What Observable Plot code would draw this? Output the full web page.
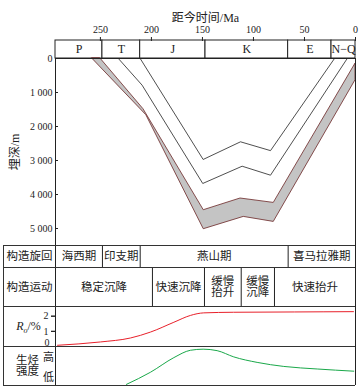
<!DOCTYPE html>
<html><head><meta charset="utf-8">
<script src="https://cdn.jsdelivr.net/npm/d3@7"></script>
<script src="https://cdn.jsdelivr.net/npm/@observablehq/plot@0.6"></script>
<style>
body{margin:0;background:#fff;}
#fig{position:relative;width:361px;height:392px;background:#fff;overflow:hidden;}
#fig svg{position:absolute;left:0;top:0;}
.hl{position:absolute;left:3px;width:352px;height:1px;background:#333;}
.vl{position:absolute;left:3px;top:245px;width:1px;height:141px;background:#333;}
</style></head><body><div id="fig"></div>
<script>
// ---- data ----
const ageTicks = [250, 200, 150, 100, 50, 0];
const depthTicks = [0, 1000, 2000, 3000, 4000, 5000];
const periodNames = ["P", "T", "J", "K", "E", "N−Q"];
const periodFrom = [294, 248, 211, 147, 66, 23.5];
const periodTo = [248, 211, 147, 66, 23.5, 0];

const line1Age = [211, 149.3, 112.7, 83.3, 20.6];
const line1Depth = [0, 2970, 2450, 2710, 0];
const line2Age = [232.4, 209.1, 149.7, 111.1, 83.3, 8.1];
const line2Depth = [0, 785, 3676, 3168, 3432, 0];
const bandTopAge = [250, 207.8, 148.7, 112.7, 80.1, 0];
const bandTopDepth = [0, 1491, 4462, 4118, 4247, 150];
const bandBotAge = [258.1, 205, 148.7, 109.5, 80.1, 0];
const bandBotDepth = [0, 1668, 5021, 4659, 4806, 640];

const cycleNames = ["海西期", "印支期", "燕山期", "喜马拉雅期"];
const cycleFrom = [294, 248, 211, 66];
const cycleTo = [248, 211, 66, 0];

const moveNames = ["稳定沉降", "快速沉降", "缓慢\n抬升", "缓慢\n沉降", "快速抬升"];
const moveFrom = [294, 199, 148, 112, 79.4];
const moveTo = [199, 148, 112, 79.4, 0];

const roTicks = [0, 1, 2];
const roAge = [292, 250, 220.6, 201, 178, 161.8, 148.7, 119.6, 60, 2];
const roValue = [0.08, 0.3, 0.56, 0.95, 1.6, 2.05, 2.22, 2.26, 2.28, 2.3];

const genAge = [224.5, 201, 178, 161.8, 149.3, 135.6, 119.3, 96.4, 70.3, 37.5, 1.7];
const genValue = [0.03, 0.36, 0.76, 0.96, 0.99, 0.95, 0.78, 0.63, 0.52, 0.45, 0.39];

// ---- styling ----
const INK = "#222";
const FONT = "'Liberation Serif', 'Noto Sans CJK SC', serif";
const base = {
  width: 361, marginLeft: 55, marginRight: 6,
  x: {domain: [294, 0], axis: null},
  style: {background: "transparent", overflow: "visible", fontFamily: FONT, color: INK, fontSize: "10px"}
};
const zip = (a, b) => a.map((v, i) => [v, b[i]]);
const fig = document.getElementById("fig");

// header: time axis + periods
const periods = periodNames.map((n, i) => ({n, a: periodFrom[i], b: periodTo[i]}));
fig.append(Plot.plot({
  ...base, height: 58, marginTop: 40, marginBottom: 0,
  marks: [
    Plot.rect(periods, {x1: "a", x2: "b", fill: "white", stroke: INK, strokeWidth: 1}),
    Plot.text(periods, {x: d => (d.a + d.b) / 2, text: "n", fontSize: 12}),
    Plot.axisX({anchor: "top", ticks: ageTicks, tickSize: 4, tickPadding: 4, label: null, fontSize: 10}),
    Plot.text(["距今时间/Ma"], {frameAnchor: "top", dy: -27, fontSize: 12})
  ]
}));

// burial history
const band = bandTopAge.map((a, i) => ({a1: a, d1: bandTopDepth[i], a2: bandBotAge[i], d2: bandBotDepth[i]}));
fig.append(Plot.plot({
  ...base, height: 245, marginTop: 58, marginBottom: 0,
  y: {domain: [0, 5500], reverse: true, axis: null},
  marks: [
    Plot.area(band, {x1: "a1", y1: "d1", x2: "a2", y2: "d2", fill: "#c4c4c4", stroke: "#6b2626", strokeWidth: 0.8}),
    Plot.line(zip(line1Age, line1Depth), {x: d => d[0], y: d => d[1], stroke: INK, strokeWidth: 0.8}),
    Plot.line(zip(line2Age, line2Depth), {x: d => d[0], y: d => d[1], stroke: INK, strokeWidth: 0.8}),
    Plot.frame({stroke: INK}),
    Plot.axisY({ticks: depthTicks, tickSize: -3, tickPadding: 6, label: null, fontSize: 10,
      tickFormat: d => d3.format(",")(d).replace(/,/g, " ")}),
    Plot.text(["埋深/m"], {frameAnchor: "left", textAnchor: "middle", dx: -40, rotate: -90, fontSize: 12})
  ]
}));

// tectonic cycle row
const cycles = cycleNames.map((n, i) => ({n, a: cycleFrom[i], b: cycleTo[i]}));
fig.append(Plot.plot({
  ...base, height: 267, marginTop: 245, marginBottom: 0,
  marks: [
    Plot.ruleX([...cycleFrom, 0], {stroke: INK}),
    Plot.text(cycles, {x: d => (d.a + d.b) / 2, text: "n", fontSize: 11.5}),
    Plot.text(["构造旋回"], {frameAnchor: "left", textAnchor: "middle", dx: -26, fontSize: 11.5})
  ]
}));

// tectonic movement row
const moves = moveNames.map((n, i) => ({n, a: moveFrom[i], b: moveTo[i]}));
fig.append(Plot.plot({
  ...base, height: 306, marginTop: 267, marginBottom: 0,
  marks: [
    Plot.ruleX([...moveFrom, 0], {stroke: INK}),
    Plot.text(moves, {x: d => (d.a + d.b) / 2, text: "n", fontSize: 11.5, lineHeight: 1.0}),
    Plot.text(["构造运动"], {frameAnchor: "left", textAnchor: "middle", dx: -26, fontSize: 11.5})
  ]
}));

// Ro row
fig.append(Plot.plot({
  ...base, height: 346, marginTop: 306, marginBottom: 0,
  y: {domain: [0, 2.64], axis: null},
  marks: [
    Plot.ruleX([294, 0], {stroke: INK}),
    Plot.line(zip(roAge, roValue), {x: d => d[0], y: d => d[1], stroke: "#e8202a", strokeWidth: 1, curve: "monotone-x"}),
    Plot.axisY({ticks: roTicks, tickSize: 4, text: null, label: null}),
    Plot.axisY({ticks: roTicks.slice(1), tickSize: 4, tickPadding: 3, label: null, fontSize: 10, tickFormat: d => String(d)}),
    Plot.axisY({ticks: roTicks.slice(0, 1), tickSize: 0, tickPadding: 6, dy: -4, label: null, fontSize: 10, tickFormat: d => String(d)}),
    Plot.text(["Ro/%"], {frameAnchor: "left", textAnchor: "middle", dx: -27, fontSize: 12})
  ]
}));

// hydrocarbon generation intensity row
fig.append(Plot.plot({
  ...base, height: 385, marginTop: 346, marginBottom: 0,
  y: {domain: [0, 1.063], axis: null},
  marks: [
    Plot.ruleX([294, 0], {stroke: INK}),
    Plot.line(zip(genAge, genValue), {x: d => d[0], y: d => d[1], stroke: "#1aa84a", strokeWidth: 1, curve: "monotone-x"}),
    Plot.text(["高"], {frameAnchor: "top-left", textAnchor: "middle", dx: -7, dy: 7, fontSize: 11}),
    Plot.text(["低"], {frameAnchor: "bottom-left", textAnchor: "middle", dx: -7, dy: -5, fontSize: 11}),
    Plot.text(["生烃\n强度"], {frameAnchor: "left", textAnchor: "middle", dx: -28, fontSize: 11.5, lineHeight: 0.95})
  ]
}));

// table grid lines (left label column + row separators)
[245, 267, 306, 346, 385].forEach(y => {
  const d = document.createElement("div"); d.className = "hl"; d.style.top = y + "px"; fig.append(d);
});
const v = document.createElement("div"); v.className = "vl"; fig.append(v);

// R_o with italic R and subscript o
fig.querySelectorAll("text").forEach(t => {
  if (t.textContent === "Ro/%") {
    t.textContent = "";
    const ns = "http://www.w3.org/2000/svg";
    const r = document.createElementNS(ns, "tspan"); r.setAttribute("font-style", "italic"); r.textContent = "R";
    const o = document.createElementNS(ns, "tspan"); o.setAttribute("font-style", "italic"); o.setAttribute("font-size", "8"); o.setAttribute("dy", "3"); o.textContent = "o";
    const p = document.createElementNS(ns, "tspan"); p.setAttribute("dy", "-3"); p.textContent = "/%";
    t.append(r, o, p);
  }
});
</script></body></html>
